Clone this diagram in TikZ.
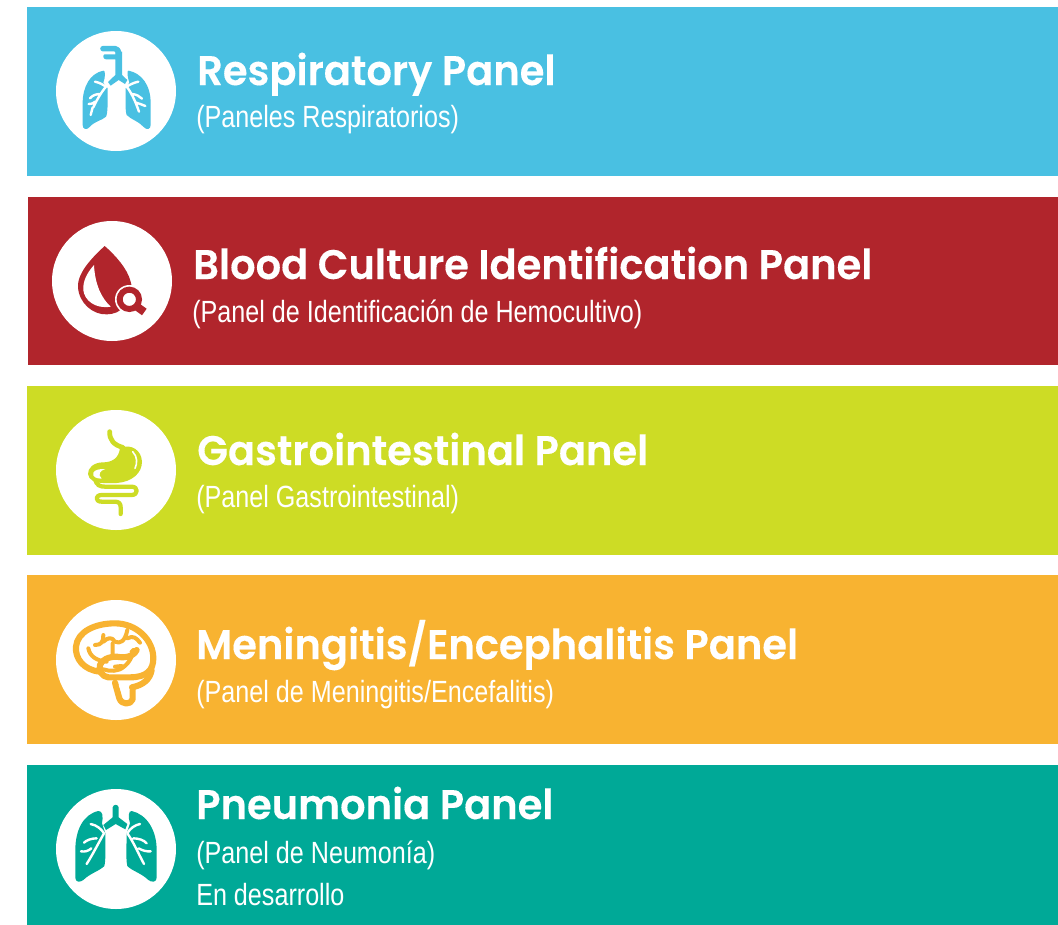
\documentclass[tikz,border=0pt]{standalone}
\usepackage{fontspec}
\setmainfont{Liberation Sans}
\newfontfamily\titlef[FakeStretch=0.968,FakeBold=0.25]{Poppins SemiBold}
\newfontfamily\subf[FakeStretch=0.82]{Liberation Sans}
\definecolor{cblue}{HTML}{49C0E2}
\definecolor{cred}{HTML}{B1252C}
\definecolor{clime}{HTML}{CDDC25}
\definecolor{corange}{HTML}{F8B331}
\definecolor{cteal}{HTML}{00A997}
\tikzset{
  bar/.style={fill=#1,draw=none},
  disc/.style={circle,fill=white,draw=none,minimum size=90pt,inner sep=0pt},
  ttl/.style={anchor=base west,inner sep=0pt,text=white,font=\titlef\fontsize{31pt}{31pt}\selectfont},
  sbt/.style={anchor=base west,inner sep=0pt,text=white,font=\subf\fontsize{23pt}{23pt}\selectfont},
  wline/.style={draw=white,line width=1.8pt,line cap=round,line join=round,fill=none},
}
\begin{document}
\begin{tikzpicture}[x=0.75pt,y=-0.75pt]
\useasboundingbox (0,0) rectangle (1058,925);
\fill[bar=cblue] (27,7) rectangle (1058,176);
\fill[bar=cred] (28,197) rectangle (1058,365);
\fill[bar=clime] (27,386) rectangle (1058,555);
\fill[bar=corange] (27,575) rectangle (1058,744);
\fill[bar=cteal] (27,765) rectangle (1058,925);
\node[disc] (d1) at (116,91) {};
\node[disc] (d2) at (112,281) {};
\node[disc] (d3) at (116,470) {};
\node[disc] (d4) at (116,660) {};
\node[disc] (d5) at (116,849) {};
% titles
\node[ttl] (t1) at (197,85) {Respiratory Panel};
\node[sbt] (s1) at (196,127) {(Paneles Respiratorios)};
\node[ttl] (t2) at (193,279) {Blood Culture Identification Panel};
\node[sbt] (s2) at (192,322) {(Panel de Identificación de Hemocultivo)};
\node[ttl] (t3) at (197,465) {Gastrointestinal Panel};
\node[sbt] (s3) at (196,507) {(Panel Gastrointestinal)};
\node[ttl] (t4) at (196,659) {Meningitis/Encephalitis Panel};
\node[sbt] (s4) at (196,702) {(Panel de Meningitis/Encefalitis)};
\node[ttl] (t5) at (196,819) {Pneumonia Panel};
\node[sbt] (s5) at (196,863) {(Panel de Neumonía)};
\node[sbt] (s6) at (196,905) {En desarrollo};
% lungs 1
\begin{scope}[shift={(40,20)},x=0.25pt,y=-0.25pt]
\draw[cblue,line width=4.2pt,line cap=round,line join=round] (189,86) -- (225,86) .. controls (232,86) and (236,92) .. (236,100);
\fill[cblue] (194,103) -- (226,103) -- (226,95) -- (246,95) -- (246,165) -- (262,180) -- (255,192) -- (236,180) -- (212,197) -- (204,186) -- (226,165) -- (226,118) -- (198,118) .. controls (188,118) and (188,103) .. (194,103) -- cycle;
\fill[cblue] (190,152) .. controls (150,160) and (128,200) .. (128,250) -- (128,315) .. controls (128,328) and (140,332) .. (150,320) .. controls (165,303) and (185,302) .. (198,290) .. controls (204,280) and (203,240) .. (203,205) -- (190,188) .. controls (197,170) and (196,150) .. (190,152) -- cycle;
\fill[cblue] (266,152) .. controls (305,160) and (332,195) .. (332,250) -- (332,315) .. controls (332,328) and (320,332) .. (310,320) .. controls (295,303) and (275,300) .. (260,285) .. controls (255,270) and (257,240) .. (257,205) -- (268,188) .. controls (262,170) and (260,150) .. (266,152) -- cycle;
\draw[wline] (165,185) .. controls (180,188) and (190,195) .. (198,200) (198,200) .. controls (185,215) and (170,240) .. (160,262) (181,222) .. controls (170,222) and (158,225) .. (150,235) (166,245) .. controls (160,250) and (152,253) .. (146,252) (158,262) -- (152,285);
\draw[wline] (295,185) .. controls (280,188) and (268,195) .. (260,200) (260,200) .. controls (272,215) and (285,240) .. (297,275) (277,222) .. controls (290,224) and (298,228) .. (306,236) (288,248) .. controls (298,250) and (305,254) .. (316,258);
\end{scope}
% blood drop
\begin{scope}[shift={(40,210)},x=0.25pt,y=-0.25pt]
\fill[cred] (194,108) .. controls (165,135) and (112,185) .. (114,230) .. controls (116,280) and (160,315) .. (200,313) .. controls (225,312) and (240,305) .. (250,290) .. controls (270,270) and (280,240) .. (272,215) .. controls (262,175) and (225,135) .. (194,108) -- cycle;
\fill[white] (162,165) .. controls (140,190) and (128,215) .. (130,240) .. controls (133,270) and (165,298) .. (212,290) .. controls (185,265) and (165,225) .. (162,165) -- cycle;
\fill[white] (268,268) circle[radius=43];
\draw[cred,line width=4.5pt] (268,268) circle[radius=29];
\draw[cred,line width=6pt] (288,288) -- (313,306);
\end{scope}
% gastro
\begin{scope}[shift={(40,400)},x=0.25pt,y=-0.25pt]
\draw[clime,line width=3.6pt,line cap=round,line join=round] (209,95) .. controls (208,120) and (222,135) .. (248,142);
\draw[clime,line width=3.2pt,line cap=round,line join=round] (165,238) .. controls (170,256) and (180,260) .. (195,260) -- (275,260) .. controls (295,260) and (295,285) .. (275,285) -- (185,285) .. controls (165,285) and (165,305) .. (185,305) -- (225,305) .. controls (238,305) and (242,312) .. (242,322) -- (242,342);
\fill[clime] (240,142) .. controls (238,175) and (215,187) .. (190,187) .. controls (160,187) and (143,205) .. (144,222) .. controls (146,240) and (165,249) .. (190,249) -- (230,249) .. controls (275,246) and (306,220) .. (306,185) .. controls (304,150) and (275,132) .. (240,142) -- cycle;
\draw[white,line width=1.2pt,line cap=round] (278,155) .. controls (293,170) and (292,190) .. (285,205);
\fill[white] (160,218) .. controls (165,209) and (180,206) .. (196,207) .. controls (180,212) and (172,222) .. (185,236) .. controls (172,236) and (156,232) .. (160,218) -- cycle;
\end{scope}
% brain
\begin{scope}[shift={(40,590)},x=0.25pt,y=-0.25pt]
\tikzset{br/.style={draw=corange,line width=4.6pt,line cap=round,line join=round,fill=none},br2/.style={draw=corange,line width=3pt,line cap=round,line join=round,fill=none}}
\draw[br] (180,245) .. controls (130,240) and (105,205) .. (108,170) .. controls (112,125) and (165,100) .. (225,100) .. controls (290,100) and (340,150) .. (340,205) .. controls (340,240) and (320,262) .. (270,262) -- (205,262) .. controls (185,260) and (175,240) .. (180,225) .. controls (185,210) and (205,200) .. (230,200) .. controls (255,205) and (280,200) .. (290,180);
\draw[br2] (190,238) .. controls (210,245) and (235,245) .. (252,230) .. controls (262,222) and (270,212) .. (275,200);
\draw[br2] (165,165) .. controls (185,165) and (190,155) .. (190,135) (190,155) .. controls (205,142) and (215,140) .. (225,155) .. controls (240,162) and (255,155) .. (262,120) (262,145) .. controls (280,135) and (290,145) .. (300,158);
\draw[br2] (145,175) .. controls (150,200) and (170,212) .. (200,215) (218,160) -- (218,192) (275,185) -- (280,180) (225,230) -- (245,228);
\draw[br] (225,278) -- (238,325) .. controls (245,345) and (272,345) .. (278,328) -- (278,300) (276,292) .. controls (310,285) and (330,268) .. (335,240);
\draw[white,line width=1.8pt,line cap=round] (240,285) -- (254,322);
\end{scope}
% lungs 5
\begin{scope}[shift={(40,780)},x=0.25pt,y=-0.25pt]
\fill[cteal] (218,82) .. controls (220,72) and (234,72) .. (236,82) -- (236,112) -- (262,132) -- (256,148) -- (227,132) -- (198,150) -- (190,135) -- (218,112) -- cycle;
\fill[cteal] (175,93) .. controls (130,103) and (106,150) .. (106,210) -- (106,293) .. controls (106,307) and (120,308) .. (130,300) .. controls (150,280) and (180,272) .. (193,258) .. controls (198,240) and (196,190) .. (196,160) -- (186,130) .. controls (190,110) and (188,92) .. (175,93) -- cycle;
\fill[cteal] (275,93) .. controls (320,103) and (350,150) .. (350,210) -- (350,293) .. controls (350,307) and (335,308) .. (325,300) .. controls (305,280) and (275,272) .. (262,258) .. controls (257,240) and (260,190) .. (260,160) -- (270,130) .. controls (264,110) and (265,92) .. (275,93) -- cycle;
\draw[wline] (152,132) .. controls (170,135) and (185,148) .. (192,160) (192,160) .. controls (175,190) and (160,220) .. (140,252) (170,175) .. controls (155,175) and (140,180) .. (132,188) (154,205) .. controls (145,213) and (135,216) .. (123,214);
\draw[wline] (300,132) .. controls (285,135) and (270,145) .. (262,160) (262,160) .. controls (280,185) and (295,220) .. (312,252) (280,175) .. controls (295,175) and (312,180) .. (320,190) (296,205) .. controls (308,212) and (320,215) .. (332,214);
\end{scope}
\end{tikzpicture}
\end{document}
